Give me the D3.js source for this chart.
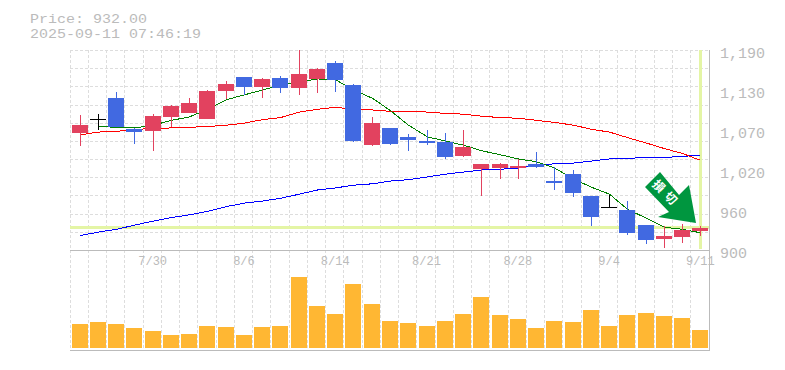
<!DOCTYPE html>
<html>
<head>
<meta charset="utf-8">
<script src="https://cdn.jsdelivr.net/npm/d3@7"></script>
<style>
    html, body { margin: 0; padding: 0; background: #fff; }
    svg { display: block; }
    text { font-family: "Liberation Mono", monospace; fill: #bbb; }
    .grid line { stroke: #ddd; stroke-dasharray: 3,2; shape-rendering: crispEdges; }
    .frame line { stroke: #bbb; shape-rendering: crispEdges; }
    .axis .domain, .axis .tick line { display: none; }
</style>
</head>
<body>
<svg id="chart" width="785" height="370"></svg>
<script>
const dates = ["7/24","7/25","7/28","7/29","7/30","7/31","8/1","8/4","8/5","8/6","8/7","8/8","8/12","8/13","8/14",
    "8/15","8/18","8/19","8/20","8/21","8/22","8/25","8/26","8/27","8/28","8/29","9/1","9/2","9/3","9/4",
    "9/5","9/8","9/9","9/10","9/11"];
const dateTicks = ["7/30","8/6","8/14","8/21","8/28","9/4","9/11"];
const priceTicks = [1190,1132,1074,1016,958,900];

const opens = [1070,1090,1120,1075,1073,1093,1099,1090,1131,1151,1136,1149,1135,1148,1171,1139,1052,1077,1064,1058,1057,1036,1017,1019,1019,1025,1000,1010,978,963,958,936,916,919,928];
const closes = [1081,1090,1078,1071,1094,1109,1113,1131,1141,1136,1148,1135,1155,1162,1147,1058,1084,1054,1060,1055,1035,1049,1025,1025,1022,1020,997,983,948,963,925,915,920,929,932];
const highs = [1096,1097,1129,1077,1097,1110,1120,1132,1145,1151,1149,1152,1190,1164,1174,1141,1093,1077,1068,1074,1070,1074,1025,1026,1032,1042,1020,1016,978,980,971,936,935,938,935];
const lows = [1051,1074,1078,1054,1044,1078,1099,1090,1119,1125,1120,1128,1125,1128,1129,1057,1051,1052,1044,1052,1032,1035,978,1003,1003,1019,987,977,935,961,922,909,903,910,920];

const maShort = [null,1079,1078,1077,1081,1088,1093,1104,1118,1125,1132,1139,1144,1148,1147,1132,1120,1102,1081,1064,1058,1052,1044,1038,1032,1028,1019,1003,991,981,959,946,933,930,925];
const maMid = [1067,1071,1072,1075,1076,1077,1078,1079,1081,1084,1089,1092,1100,1104,1107,1104,1103,1101,1101,1100,1098,1097,1094,1092,1091,1088,1085,1081,1075,1071,1063,1055,1047,1040,1030];
const maLong = [921,926,930,936,942,947,951,956,963,968,971,975,981,987,990,994,996,1000,1002,1006,1010,1013,1016,1017,1019,1023,1025,1026,1029,1032,1033,1034,1034,1036,1037];

const volumes = [24,26,24,20,17,13,14,22,21,13,21,22,71,42,34,64,44,27,25,22,27,34,51,33,29,20,27,26,38,22,33,35,32,30,18];

const price = 932;
const priceLabel = "Price: 932.00";
const timeLabel = "2025-09-11 07:46:19";
const arrowLabel = "損切";

const upColor = "#e2425f", downColor = "#4169e1", evenColor = "#000";
const markerColor = "#e4f5a5";
const svg = d3.select("#chart");

const x = d3.scaleBand().domain(dates).range([70.5, 709.5]);
const y = d3.scaleLinear().domain([900, 1190]).range([250, 50]);
const yVol = d3.scaleLinear().domain([0, 71]).range([348, 277]);
const snap = v => Math.round(v) + 0.5;
const cx = d => snap(x(d) + x.bandwidth() / 2);

// Grid, one line per band and eleven rows
const grid = svg.append("g").attr("class", "grid");
grid.selectAll(".gx").data(dates).join("line")
    .attr("x1", d => snap(x(d)) - 1).attr("x2", d => snap(x(d)) - 1)
    .attr("y1", 50).attr("y2", 350);
grid.selectAll(".gy").data(d3.range(0, 11)).join("line")
    .attr("class", "gy")
    .attr("x1", 70).attr("x2", 709)
    .attr("y1", i => snap(y(1190 - i * 290 / 11))).attr("y2", i => snap(y(1190 - i * 290 / 11)));

// Frame
const frame = svg.append("g").attr("class", "frame");
frame.append("line").attr("x1", 70).attr("x2", 710).attr("y1", 250.5).attr("y2", 250.5);
frame.append("line").attr("x1", 70).attr("x2", 710).attr("y1", 350.5).attr("y2", 350.5);
frame.append("line").attr("x1", 709.5).attr("x2", 709.5).attr("y1", 50).attr("y2", 351);

// Current price and current time markers
svg.append("rect").attr("x", 70).attr("width", 639)
    .attr("y", Math.round(y(price)) - 2).attr("height", 3)
    .attr("fill", markerColor);
svg.append("rect").attr("x", cx(dates[34]) - 1.5).attr("width", 3)
    .attr("y", 50).attr("height", 199)
    .attr("fill", markerColor);

// Moving averages
const line = d3.line()
    .defined(d => d[1] !== null)
    .x(d => cx(d[0]))
    .y(d => y(d[1]));
[[maLong, "#0000ff"], [maMid, "#ff0000"], [maShort, "#008000"]].forEach(([values, color]) => {
    svg.append("path")
        .attr("d", line(dates.map((d, i) => [d, values[i]])))
        .attr("fill", "none")
        .attr("stroke", color)
        .attr("shape-rendering", "crispEdges");
});

// Candles
const candleColor = i => closes[i] > opens[i] ? upColor : closes[i] < opens[i] ? downColor : evenColor;
const candles = svg.append("g").attr("shape-rendering", "crispEdges");
candles.selectAll("line").data(dates).join("line")
    .attr("x1", d => cx(d)).attr("x2", d => cx(d))
    .attr("y1", (d, i) => y(highs[i])).attr("y2", (d, i) => y(lows[i]))
    .attr("stroke", (d, i) => candleColor(i));
candles.selectAll("rect").data(dates).join("rect")
    .attr("x", d => cx(d) - 8.5)
    .attr("width", 16)
    .attr("y", (d, i) => y(Math.max(opens[i], closes[i])))
    .attr("height", (d, i) => Math.max(1, y(Math.min(opens[i], closes[i])) - y(Math.max(opens[i], closes[i]))))
    .attr("fill", (d, i) => candleColor(i));

// Volume
svg.append("g").attr("shape-rendering", "crispEdges")
    .selectAll("rect").data(dates).join("rect")
    .attr("x", d => cx(d) - 8.5)
    .attr("width", 16)
    .attr("y", (d, i) => yVol(volumes[i]))
    .attr("height", (d, i) => yVol(0) - yVol(volumes[i]))
    .attr("fill", "#ffb733");

// Axes
const yAxis = svg.append("g").attr("class", "axis")
    .attr("transform", "translate(720,0)")
    .call(d3.axisRight(y).tickValues(priceTicks).tickSize(0).tickPadding(0)
        .tickFormat(d => d3.format(",")(Math.round(d / 10) * 10)));
yAxis.selectAll("text").attr("font-size", 15).attr("dy", "0.48em");

const xAxis = svg.append("g").attr("class", "axis")
    .attr("transform", "translate(0,260)")
    .call(d3.axisBottom(x).tickValues(dateTicks).tickSize(0).tickPadding(0));
xAxis.selectAll("text").attr("font-size", 12).attr("dy", "0.45em");

// Header, stretched to the 9px character width so the two rows do not collide
[[priceLabel, 23], [timeLabel, 38]].forEach(([label, baseline]) => {
    svg.append("text").attr("x", 30).attr("y", baseline)
        .attr("font-size", 13)
        .attr("textLength", label.length * 9)
        .attr("lengthAdjust", "spacingAndGlyphs")
        .text(label);
});

// Signal arrow
const arrow = svg.append("g").attr("transform", "translate(660,172)");
arrow.append("path")
    .attr("d", "M0,0L-15,15L9,40L-2,45L36,51L29,13L19,23Z")
    .attr("fill", "#00963f");
arrow.append("text")
    .attr("transform", "translate(6.5,22) rotate(45)")
    .attr("text-anchor", "middle")
    .attr("dy", "0.36em")
    .attr("font-size", 12)
    .attr("font-weight", "bold")
    .attr("letter-spacing", 5)
    .style("font-family", "'Noto Sans CJK JP'")
    .style("fill", "#fff")
    .text(arrowLabel);
</script>
</body>
</html>
